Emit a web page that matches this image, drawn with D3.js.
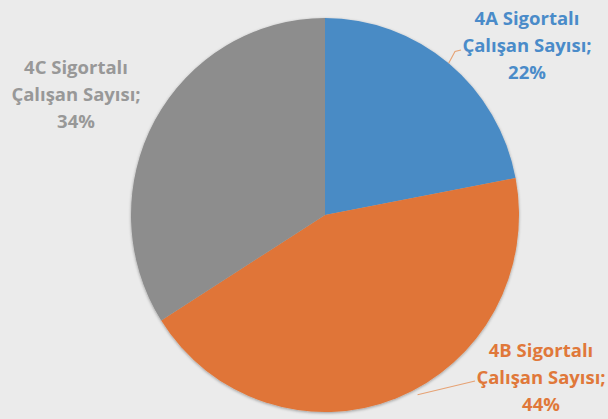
<!DOCTYPE html>
<html>
<head>
<meta charset="utf-8">
<script src="https://cdn.jsdelivr.net/npm/d3@7"></script>
<style>
  html, body { margin: 0; padding: 0; background: #ebebeb; }
  svg { display: block; }
</style>
</head>
<body>
<div id="chart"></div>
<script>
// data
var categories = ["4A Sigortalı Çalışan Sayısı", "4B Sigortalı Çalışan Sayısı", "4C Sigortalı Çalışan Sayısı"];
var shares = [22, 44, 34];
var colors = ["#4a8bc5", "#e07537", "#8d8d8d"];
var textColors = ["#4a8bc9", "#e0783a", "#989898"];

var width = 608, height = 419;
var cx = 325, cy = 215, rx = 194, ry = 197;

var svg = d3.select("#chart")
    .append("svg")
    .attr("width", width)
    .attr("height", height);

svg.append("rect")
    .attr("width", width)
    .attr("height", height)
    .attr("fill", "#ebebeb");

var defs = svg.append("defs");
var f = defs.append("filter").attr("id", "shadow")
    .attr("x", "-10%").attr("y", "-10%").attr("width", "120%").attr("height", "120%");
f.append("feDropShadow")
    .attr("dx", 0).attr("dy", 1)
    .attr("stdDeviation", 1.6)
    .attr("flood-color", "#000")
    .attr("flood-opacity", 0.35);

var data = categories.map(function(c, i) { return { name: c, value: shares[i], i: i }; });

var pie = d3.pie()
    .sort(null)
    .value(function(d) { return d.value; });

var arc = d3.arc()
    .innerRadius(0)
    .outerRadius(rx);

var arcs = pie(data);

var g = svg.append("g")
    .attr("transform", "translate(" + cx + "," + cy + ") scale(1," + (ry / rx) + ")")
    .attr("filter", "url(#shadow)");

g.selectAll("path")
    .data(arcs)
    .enter()
    .append("path")
    .attr("d", arc)
    .attr("fill", function(d) { return colors[d.data.i]; });

// leader lines (label side end points)
function edge(a, k) {
    var p = d3.pointRadial(a, rx * k);
    return [cx + p[0], cy + p[1] * ry / rx];
}
var leaders = [
    { slice: 0, angle: (arcs[0].startAngle + arcs[0].endAngle) / 2, k: 1.0, to: [[455, 51.5], [461, 50]] },
    { slice: 1, angle: 2.66, k: 1.03, to: [[475, 381]] }
];
leaders.forEach(function(l) {
    var pts = [edge(l.angle, l.k)].concat(l.to);
    svg.append("path")
        .attr("d", d3.line()(pts))
        .attr("fill", "none")
        .attr("stroke", "#e6a274")
        .attr("stroke-width", 1.1);
});

// labels
var labelPos = [
    { x: 527, y: 25 },
    { x: 541, y: 357 },
    { x: 76, y: 74 }
];
var lineGap = 27;

arcs.forEach(function(d) {
    var i = d.data.i;
    var words = d.data.name.split(" ");
    var lines = [words[0] + " " + words[1], words[2] + " " + words[3] + ";", d.data.value + "%"];
    var t = svg.append("text")
        .attr("text-anchor", "middle")
        .attr("font-family", "'Open Sans', sans-serif")
        .attr("font-weight", "bold")
        .attr("font-size", "18.5px")
        .attr("fill", textColors[i]);
    lines.forEach(function(s, j) {
        t.append("tspan")
            .attr("x", labelPos[i].x)
            .attr("y", labelPos[i].y + j * lineGap)
            .text(s);
    });
});
</script>
</body>
</html>
